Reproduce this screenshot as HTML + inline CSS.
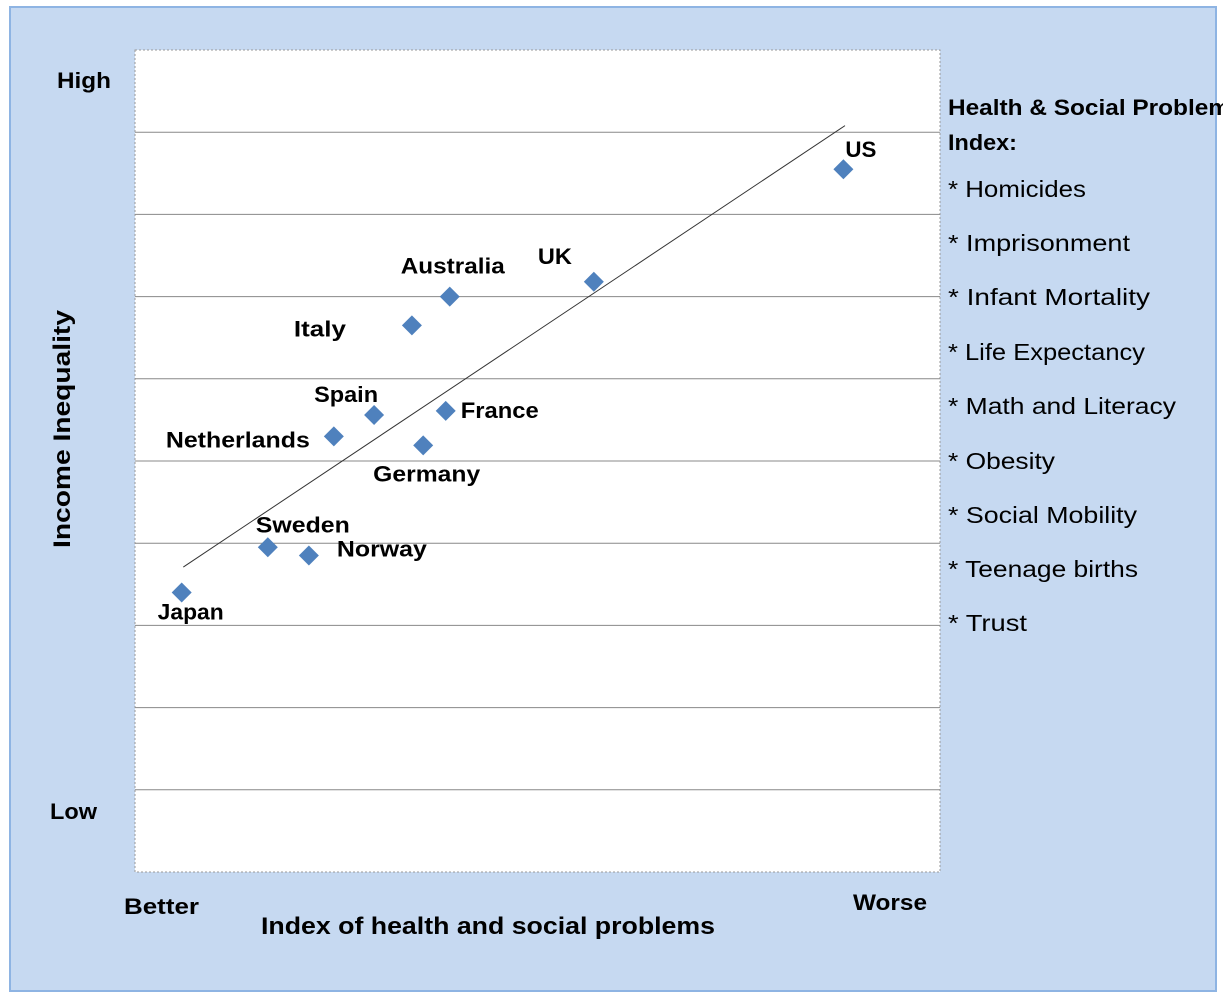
<!DOCTYPE html>
<html><head><meta charset="utf-8"><style>
body{margin:0;background:#fff;width:1223px;height:1000px;overflow:hidden;font-family:"Liberation Sans",sans-serif}
</style></head><body>
<svg width="1223" height="1000" xmlns="http://www.w3.org/2000/svg">
<rect x="10" y="7" width="1206" height="984" fill="#c6d9f1" stroke="#8eb4e3" stroke-width="2"/>
<rect x="135" y="50" width="805" height="822" fill="#fff" stroke="#999" stroke-dasharray="2,2"/>
<g id="grid"></g>
<g id="marks"></g>
<g font-weight="bold" font-size="22" fill="#000" lengthAdjust="spacingAndGlyphs">
<text x="57" y="88" textLength="54" lengthAdjust="spacingAndGlyphs">High</text>
<text x="50" y="819" textLength="47" lengthAdjust="spacingAndGlyphs">Low</text>
<text x="124" y="914" textLength="75" lengthAdjust="spacingAndGlyphs">Better</text>
<text x="853" y="910" textLength="74" lengthAdjust="spacingAndGlyphs">Worse</text>
<text x="261" y="934" font-size="24" textLength="454" lengthAdjust="spacingAndGlyphs">Index of health and social problems</text>
<text transform="translate(70,548) rotate(-90)" font-size="24" textLength="238" lengthAdjust="spacingAndGlyphs">Income Inequality</text>
<text x="948" y="115" textLength="282" lengthAdjust="spacingAndGlyphs">Health &amp; Social Problem</text>
<text x="948" y="150" textLength="69" lengthAdjust="spacingAndGlyphs">Index:</text>
</g>
<g font-size="23" fill="#000">
<text x="948" y="197" textLength="138" lengthAdjust="spacingAndGlyphs">* Homicides</text>
<text x="948" y="251" textLength="182" lengthAdjust="spacingAndGlyphs">* Imprisonment</text>
<text x="948" y="305" textLength="202" lengthAdjust="spacingAndGlyphs">* Infant Mortality</text>
<text x="948" y="360" textLength="197" lengthAdjust="spacingAndGlyphs">* Life Expectancy</text>
<text x="948" y="414" textLength="228" lengthAdjust="spacingAndGlyphs">* Math and Literacy</text>
<text x="948" y="469" textLength="107" lengthAdjust="spacingAndGlyphs">* Obesity</text>
<text x="948" y="523" textLength="189" lengthAdjust="spacingAndGlyphs">* Social Mobility</text>
<text x="948" y="577" textLength="190" lengthAdjust="spacingAndGlyphs">* Teenage births</text>
<text x="948" y="631" textLength="79" lengthAdjust="spacingAndGlyphs">* Trust</text>
</g>
</svg>
<script>
const countries=["US","UK","Australia","Italy","Spain","France","Netherlands","Germany","Sweden","Norway","Japan"];
const xValues=[8.80,5.70,3.91,3.44,2.97,3.86,2.47,3.58,1.65,2.16,0.58];
const yValues=[8.55,7.18,7.00,6.65,5.56,5.61,5.30,5.19,3.95,3.85,3.40];
const trendX=[0.60,8.82];
const trendY=[3.71,9.08];
const gridTicks=[1,2,3,4,5,6,7,8,9];
const labelOff={US:[2,-12,31],UK:[-56,-18,34],Australia:[-49,-23,104],Italy:[-118,11,52],Spain:[-60,-13,64],France:[15,7,78],Netherlands:[-168,11,144],Germany:[-50,36,107],Sweden:[-12,-15,94],Norway:[28,1,90],Japan:[-24,27,66]};
const X=v=>135+v*80.5, Y=v=>872-v*82.2;
const NS="http://www.w3.org/2000/svg";
const grid=document.getElementById('grid'),marks=document.getElementById('marks');
gridTicks.forEach(t=>{const l=document.createElementNS(NS,'line');
l.setAttribute('x1',135);l.setAttribute('x2',940);l.setAttribute('y1',Y(t));l.setAttribute('y2',Y(t));l.setAttribute('stroke','#888');l.setAttribute('stroke-width','1');


grid.appendChild(l);});
const tl=document.createElementNS(NS,'line');
tl.setAttribute('x1',X(trendX[0]));tl.setAttribute('y1',Y(trendY[0]));tl.setAttribute('x2',X(trendX[1]));tl.setAttribute('y2',Y(trendY[1]));tl.setAttribute('stroke','#333');tl.setAttribute('stroke-width','1');


marks.appendChild(tl);
countries.forEach((c,i)=>{const cx=X(xValues[i]),cy=Y(yValues[i]);
const p=document.createElementNS(NS,'polygon');
p.setAttribute('points',`${cx},${cy-10} ${cx+10},${cy} ${cx},${cy+10} ${cx-10},${cy}`);
p.setAttribute('fill','#4f81bd');


marks.appendChild(p);
const o=labelOff[c];const t=document.createElementNS(NS,'text');
t.setAttribute('x',cx+o[0]);t.setAttribute('y',cy+o[1]);
t.setAttribute('textLength',o[2]);t.setAttribute('lengthAdjust','spacingAndGlyphs');
t.setAttribute('font-size','22');t.setAttribute('font-weight','bold');t.textContent=c;


marks.appendChild(t);});
</script>
</body></html>
